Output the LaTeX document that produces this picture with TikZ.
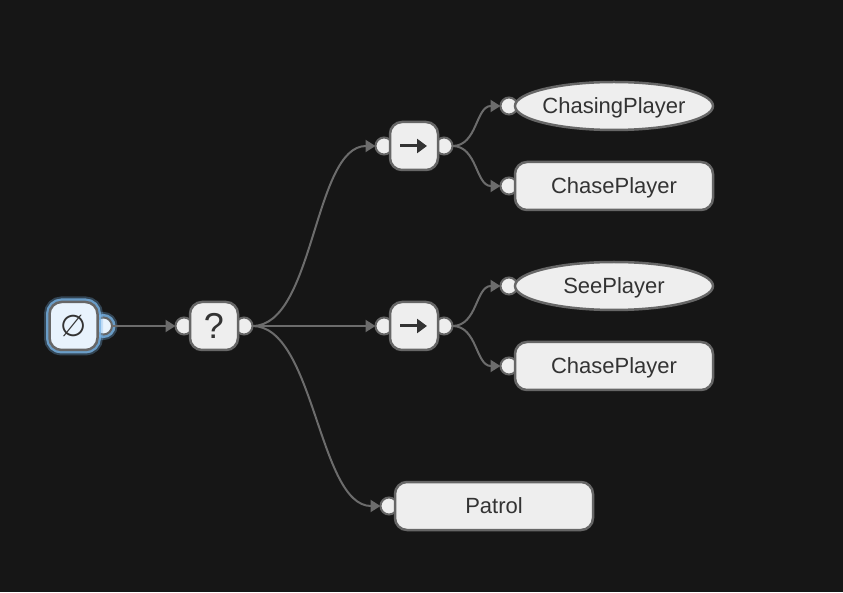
\documentclass[tikz,border=0pt]{standalone}
\usepackage{fontspec}
\setmainfont{Liberation Sans}
\newfontfamily\symbolfont{DejaVu Sans}
\usetikzlibrary{positioning,shapes.geometric,arrows.meta}

\definecolor{canvas}{RGB}{22,22,22}
\definecolor{nodefill}{RGB}{238,238,238}
\definecolor{nodeline}{RGB}{102,102,102}
\definecolor{linkgray}{RGB}{108,108,108}
\definecolor{labelgray}{RGB}{51,51,51}
\definecolor{glowblue}{RGB}{120,180,230}
\definecolor{rootfill}{RGB}{232,243,253}

\pgfdeclarelayer{canvaslayer}
\pgfdeclarelayer{portlayer}
\pgfsetlayers{canvaslayer,portlayer,main}

\begin{document}
\begin{tikzpicture}[
        x=1pt, y=1pt,
        control/.style={
                rectangle,
                rounded corners=12pt,
                draw=nodeline,
                fill=nodefill,
                line width=2.5pt,
                minimum width=48pt,
                minimum height=48pt,
                inner sep=0pt,
                outer sep=0pt,
                text=labelgray
            },
        leaf/.style={
                rectangle,
                rounded corners=12pt,
                draw=nodeline,
                fill=nodefill,
                line width=2.5pt,
                minimum width=198pt,
                minimum height=48pt,
                text depth=0pt,
                outer sep=0pt,
                text=labelgray,
                font=\fontsize{22}{26}\selectfont
            },
        condition/.style={
                ellipse,
                draw=nodeline,
                fill=nodefill,
                line width=2.5pt,
                minimum width=198pt,
                minimum height=48pt,
                inner xsep=-4pt,
                inner ysep=0pt,
                text depth=0pt,
                outer sep=0pt,
                text=labelgray,
                font=\fontsize{22}{26}\selectfont
            },
        port/.style={
                circle,
                draw=nodeline,
                fill=nodefill,
                line width=2pt,
                minimum size=17pt,
                inner sep=0pt,
                outer sep=0pt
            },
        glow/.style={
                preaction={draw=glowblue, line width=11pt, opacity=0.3},
                preaction={draw=glowblue, line width=7pt, opacity=0.8}
            },
        link/.style={draw=linkgray, line width=2pt, -{Triangle[length=10pt,width=12pt]}},
        seqarrow/.style={draw=labelgray, line width=3pt, -{Triangle[length=10pt,width=14pt]}}
    ]
    \useasboundingbox (0,0) rectangle (843,592);
    \begin{pgfonlayer}{canvaslayer}
        \fill[canvas] (0,0) rectangle (843,592);
    \end{pgfonlayer}

    % tree nodes
    \node[control, glow, fill=rootfill] (root) at (73.5,266) {\symbolfont\fontsize{30}{32}\selectfont ∅};
    \node[control] (selector) [right=92.5pt of root] {\fontsize{36}{40}\selectfont ?};
    \node[control] (seqB) [right=152pt of selector] {};
    \node[control] (seqA) [above=132pt of seqB] {};
    \node[condition] (chasing) [right=77pt of seqA, yshift=40pt] {ChasingPlayer};
    \node[leaf] (chaseA) [right=77pt of seqA, yshift=-40pt] {ChasePlayer};
    \node[condition] (see) [right=77pt of seqB, yshift=40pt] {SeePlayer};
    \node[leaf] (chaseB) [right=77pt of seqB, yshift=-40pt] {ChasePlayer};
    \node[leaf] (patrol) [below right=132pt and 157pt of selector] {Patrol};

    % sequence icons
    \draw[seqarrow] ([xshift=-14pt]seqA.center) -- ([xshift=13pt]seqA.center);
    \draw[seqarrow] ([xshift=-14pt]seqB.center) -- ([xshift=13pt]seqB.center);

    % ports
    \begin{pgfonlayer}{portlayer}
        \node[port, glow, fill=rootfill] (rootOut) at ([xshift=6pt]root.east) {};
        \node[port] (selectorIn) at ([xshift=-6pt]selector.west) {};
        \node[port] (selectorOut) at ([xshift=6pt]selector.east) {};
        \node[port] (seqAIn) at ([xshift=-6pt]seqA.west) {};
        \node[port] (seqAOut) at ([xshift=6pt]seqA.east) {};
        \node[port] (seqBIn) at ([xshift=-6pt]seqB.west) {};
        \node[port] (seqBOut) at ([xshift=6pt]seqB.east) {};
        \node[port] (chasingIn) at ([xshift=-6pt]chasing.west) {};
        \node[port] (chaseAIn) at ([xshift=-6pt]chaseA.west) {};
        \node[port] (seeIn) at ([xshift=-6pt]see.west) {};
        \node[port] (chaseBIn) at ([xshift=-6pt]chaseB.west) {};
        \node[port] (patrolIn) at ([xshift=-6pt]patrol.west) {};
    \end{pgfonlayer}

    % links
    \draw[link] (rootOut.east) -- (selectorIn.west);
    \draw[link] (selectorOut.east) .. controls +(62,0) and +(-62,0) .. (seqAIn.west);
    \draw[link] (selectorOut.east) -- (seqBIn.west);
    \draw[link] (selectorOut.east) .. controls +(62,0) and +(-62,0) .. (patrolIn.west);
    \draw[link] (seqAOut.east) .. controls +(25,0) and +(-25,0) .. (chasingIn.west);
    \draw[link] (seqAOut.east) .. controls +(25,0) and +(-25,0) .. (chaseAIn.west);
    \draw[link] (seqBOut.east) .. controls +(25,0) and +(-25,0) .. (seeIn.west);
    \draw[link] (seqBOut.east) .. controls +(25,0) and +(-25,0) .. (chaseBIn.west);
\end{tikzpicture}
\end{document}
